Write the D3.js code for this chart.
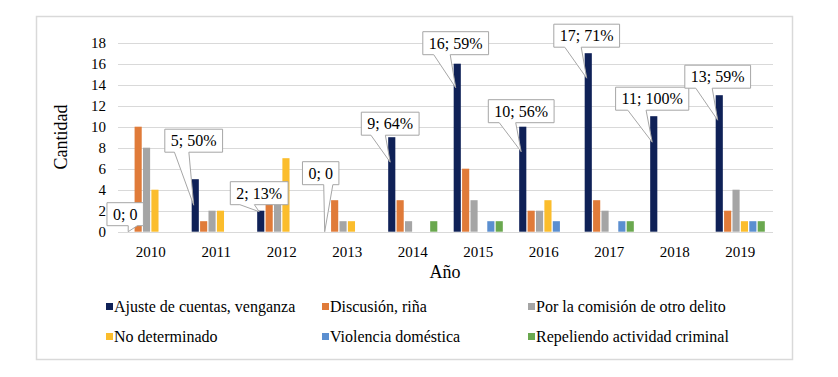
<!DOCTYPE html>
<html>
<head>
<meta charset="utf-8">
<script src="https://cdn.jsdelivr.net/npm/d3@7"></script>
<style>
  body { margin: 0; background: #fff; }
</style>
</head>
<body>
<svg id="chart"></svg>
<script>
// data
const years = ["2010", "2011", "2012", "2013", "2014", "2015", "2016", "2017", "2018", "2019"];
const seriesNames = [
  "Ajuste de cuentas, venganza",
  "Discusión, riña",
  "Por la comisión de otro delito",
  "No determinado",
  "Violencia doméstica",
  "Repeliendo actividad criminal"
];
const ajuste     = [0, 5, 2, 0, 9, 16, 10, 17, 11, 13];
const discusion  = [10, 1, 3, 3, 3, 6, 2, 3, 0, 2];
const comision   = [8, 2, 3, 1, 1, 3, 2, 2, 0, 4];
const noDeterm   = [4, 2, 7, 1, 0, 0, 3, 0, 0, 1];
const violencia  = [0, 0, 0, 0, 0, 1, 1, 1, 0, 1];
const repeliendo = [0, 0, 0, 0, 1, 1, 0, 1, 0, 1];
const yTicks = [0, 2, 4, 6, 8, 10, 12, 14, 16, 18];

const colors = ["#0f2157", "#e07b39", "#a5a5a5", "#fbbd2c", "#5b8fd0", "#6aa84f"];

// callout placement (box lift above bar top, tail tip drop below bar top)
const boxLift = [6, 27, 6, 47, 2, 9, 4, 6, 6, 7];
const tipDrop = [25, 26, 1, 25, 25, 24, 25, 25, 26, 25];

const allSeries = [ajuste, discusion, comision, noDeterm, violencia, repeliendo];

const width = 838, height = 377;
const svg = d3.select("#chart")
  .attr("width", width).attr("height", height)
  .attr("font-family", "'Liberation Serif', 'DejaVu Serif', serif")
  .style("font-family", "'Liberation Serif', 'DejaVu Serif', serif");

// outer frame
svg.append("rect")
  .attr("x", 36.5).attr("y", 16.5)
  .attr("width", 756).attr("height", 343)
  .attr("fill", "none")
  .attr("stroke", "#d9d9d9")
  .attr("stroke-width", 1.5);

const x0 = d3.scaleBand().domain(years).range([118, 773]).paddingInner(0.25).paddingOuter(0.125);
const x1 = d3.scaleBand().domain(d3.range(seriesNames.length)).range([0, x0.bandwidth()]).paddingInner(0.15);
const y = d3.scaleLinear().domain([0, 18]).range([231.7, 42.7]);

// gridlines
svg.append("g").selectAll("line")
  .data(yTicks)
  .enter().append("line")
  .attr("x1", 118).attr("x2", 773)
  .attr("y1", d => Math.round(y(d)) + 0.5)
  .attr("y2", d => Math.round(y(d)) + 0.5)
  .attr("stroke", "#d9d9d9")
  .attr("stroke-width", 1);

// y labels
svg.append("g").selectAll("text")
  .data(yTicks)
  .enter().append("text")
  .attr("x", 106)
  .attr("y", d => y(d) + 5)
  .attr("text-anchor", "end")
  .style("font-size", "15px")
  .text(d => d);

svg.append("text")
  .attr("transform", "translate(67,137) rotate(-90)")
  .attr("text-anchor", "middle")
  .style("font-size", "18px")
  .text("Cantidad");

// x labels
svg.append("g").selectAll("text")
  .data(years)
  .enter().append("text")
  .attr("x", d => x0(d) + x0.bandwidth() / 2)
  .attr("y", 257)
  .attr("text-anchor", "middle")
  .style("font-size", "15px")
  .text(d => d);

svg.append("text")
  .attr("x", 445).attr("y", 278)
  .attr("text-anchor", "middle")
  .style("font-size", "18px")
  .text("Año");

// bars
const groups = svg.append("g").selectAll("g")
  .data(years)
  .enter().append("g")
  .attr("transform", d => `translate(${x0(d)},0)`);

groups.selectAll("rect")
  .data((d, i) => allSeries.map((s, k) => ({ k: k, v: s[i] })))
  .enter().append("rect")
  .filter(d => d.v > 0)
  .attr("x", d => x1(d.k))
  .attr("y", d => y(d.v))
  .attr("width", x1.bandwidth())
  .attr("height", d => y(0) - y(d.v))
  .attr("fill", d => colors[d.k]);

// callouts on the first series
years.forEach((yr, i) => {
  const v = ajuste[i];
  const total = d3.sum(allSeries, s => s[i]);
  const label = v === 0 ? "0; 0" : `${v}; ${Math.round(v / total * 100)}%`;
  const tipX = x0(yr) + x1(0) + 2;
  const top = y(v);
  const tipY = Math.min(top + tipDrop[i], y(0));

  const g = svg.append("g");
  const txt = g.append("text")
    .style("font-size", "16px")
    .attr("text-anchor", "middle")
    .text(label);
  const w = txt.node().getComputedTextLength() + 12;
  const h = 23;
  const cx = tipX + (i === 0 ? -3 : i === 3 ? -4 : 0);
  const left = cx - w / 2, bottom = top - boxLift[i], topY = bottom - h;

  let b1, b2;
  if (tipX > cx) { b1 = left + w * 7 / 12; b2 = left + w * 10 / 12; }
  else { b1 = left + w * 2 / 12; b2 = left + w * 5 / 12; }

  const p = d3.path();
  p.moveTo(left, topY);
  p.lineTo(left + w, topY);
  p.lineTo(left + w, bottom);
  p.lineTo(b2, bottom);
  p.lineTo(tipX, tipY);
  p.lineTo(b1, bottom);
  p.lineTo(left, bottom);
  p.closePath();

  g.insert("path", "text")
    .attr("d", p.toString())
    .attr("fill", "#fff")
    .attr("stroke", "#a6a6a6")
    .attr("stroke-width", 1);

  txt.attr("x", cx).attr("y", topY + 17);
});

// legend
const legendCols = [106, 322, 528];
const legendRows = [307, 337];
const legend = svg.append("g").selectAll("g")
  .data(seriesNames)
  .enter().append("g")
  .attr("transform", (d, i) => `translate(${legendCols[i % 3]},${legendRows[Math.floor(i / 3)]})`);

legend.append("rect")
  .attr("x", 0).attr("y", -4)
  .attr("width", 7).attr("height", 7)
  .attr("fill", (d, i) => colors[i]);

legend.append("text")
  .attr("x", 8).attr("y", 5)
  .style("font-size", "16px")
  .text(d => d);
</script>
</body>
</html>
